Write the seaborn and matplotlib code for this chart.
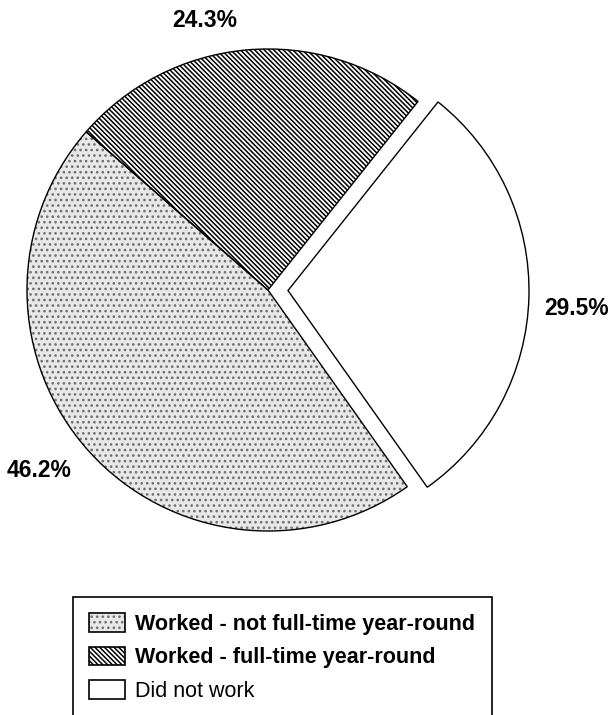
import numpy as np
import matplotlib
matplotlib.use("Agg")
import matplotlib.pyplot as plt
import matplotlib.patches as mpatches
from matplotlib.colors import to_rgba
import seaborn as sns

# Work experience shares (percent)
categories = ["Worked - not full-time year-round",
              "Worked - full-time year-round",
              "Did not work"]
shares = [46.2, 24.3, 29.5]

# Fill styles for each category
face_colors = ["#e8e8e8", "white", "white"]
hatches = ["...", "\\" * 7, ""]
hatch_colors = ["#707070", "black", "black"]
explode = [0.0, 0.0, 0.083]
label_angle_shift = [-4.0, 8.0, -2.0]   # degrees, nudges the percent labels
label_radius = [1.21, 1.15, 1.20]
legend_weights = ["bold", "bold", "normal"]

sns.set_theme(style="white")
plt.rcParams["font.family"] = ["Liberation Sans", "DejaVu Sans"]
plt.rcParams["hatch.linewidth"] = 1.1
plt.rcParams["text.color"] = "black"

W, H, DPI = 613, 715, 100
fig = plt.figure(figsize=(W / DPI, H / DPI), dpi=DPI)
ax = fig.add_axes([0, 0, 1, 1])

R_PX = 241.0
CX, CY = 268.0, 290.0  # pie centre in pixels from top-left

start = -54.7

# pass 1: fills and hatching
wedges, _, pct_texts = ax.pie(
    shares, explode=explode, startangle=start, counterclock=False,
    colors=face_colors, autopct="%1.1f%%", pctdistance=1.19,
    wedgeprops=dict(linewidth=0),
    textprops=dict(fontsize=16.5, fontweight="bold", color="black"),
)
for w, h, hc in zip(wedges, hatches, hatch_colors):
    w.set_hatch(h)
    w.set_edgecolor(hc)
    w.set_linewidth(0)

# pass 2: black outlines
outlines, _ = ax.pie(
    shares, explode=explode, startangle=start, counterclock=False,
    colors=["none"] * len(shares),
    wedgeprops=dict(linewidth=1.0, edgecolor="black", fill=False),
)

# percent labels positioned around each wedge
for w, t, da, rr in zip(wedges, pct_texts, label_angle_shift, label_radius):
    mid = np.deg2rad((w.theta1 + w.theta2) / 2 + da)
    cx, cy = w.center
    t.set_position((cx + rr * np.cos(mid), cy + rr * np.sin(mid)))
    t.set_ha("center")
    t.set_va("center")

ax.set_xlim(-CX / R_PX, (W - CX) / R_PX)
ax.set_ylim(-(H - CY) / R_PX, CY / R_PX)
ax.set_aspect("auto")
ax.axis("off")

# legend
handles = []
for fc, h, hc in zip(face_colors, hatches, hatch_colors):
    p = mpatches.Patch(facecolor=fc, edgecolor="black", hatch=h, linewidth=1.2)
    p._hatch_color = to_rgba(hc)
    handles.append(p)

leg = fig.legend(
    handles, categories, loc="upper left",
    bbox_to_anchor=(73 / W, 1 - 597 / H), bbox_transform=fig.transFigure,
    fontsize=15.5, frameon=True, fancybox=False, shadow=False, framealpha=1,
    edgecolor="black", borderaxespad=0, borderpad=0.75,
    handlelength=1.65, handleheight=0.95, handletextpad=0.5, labelspacing=0.55,
)
leg.get_frame().set_linewidth(1.2)
for txt, wt in zip(leg.get_texts(), legend_weights):
    txt.set_fontweight(wt)
    txt.set_color("black")

fig.savefig("out.png", dpi=DPI, facecolor="white")
